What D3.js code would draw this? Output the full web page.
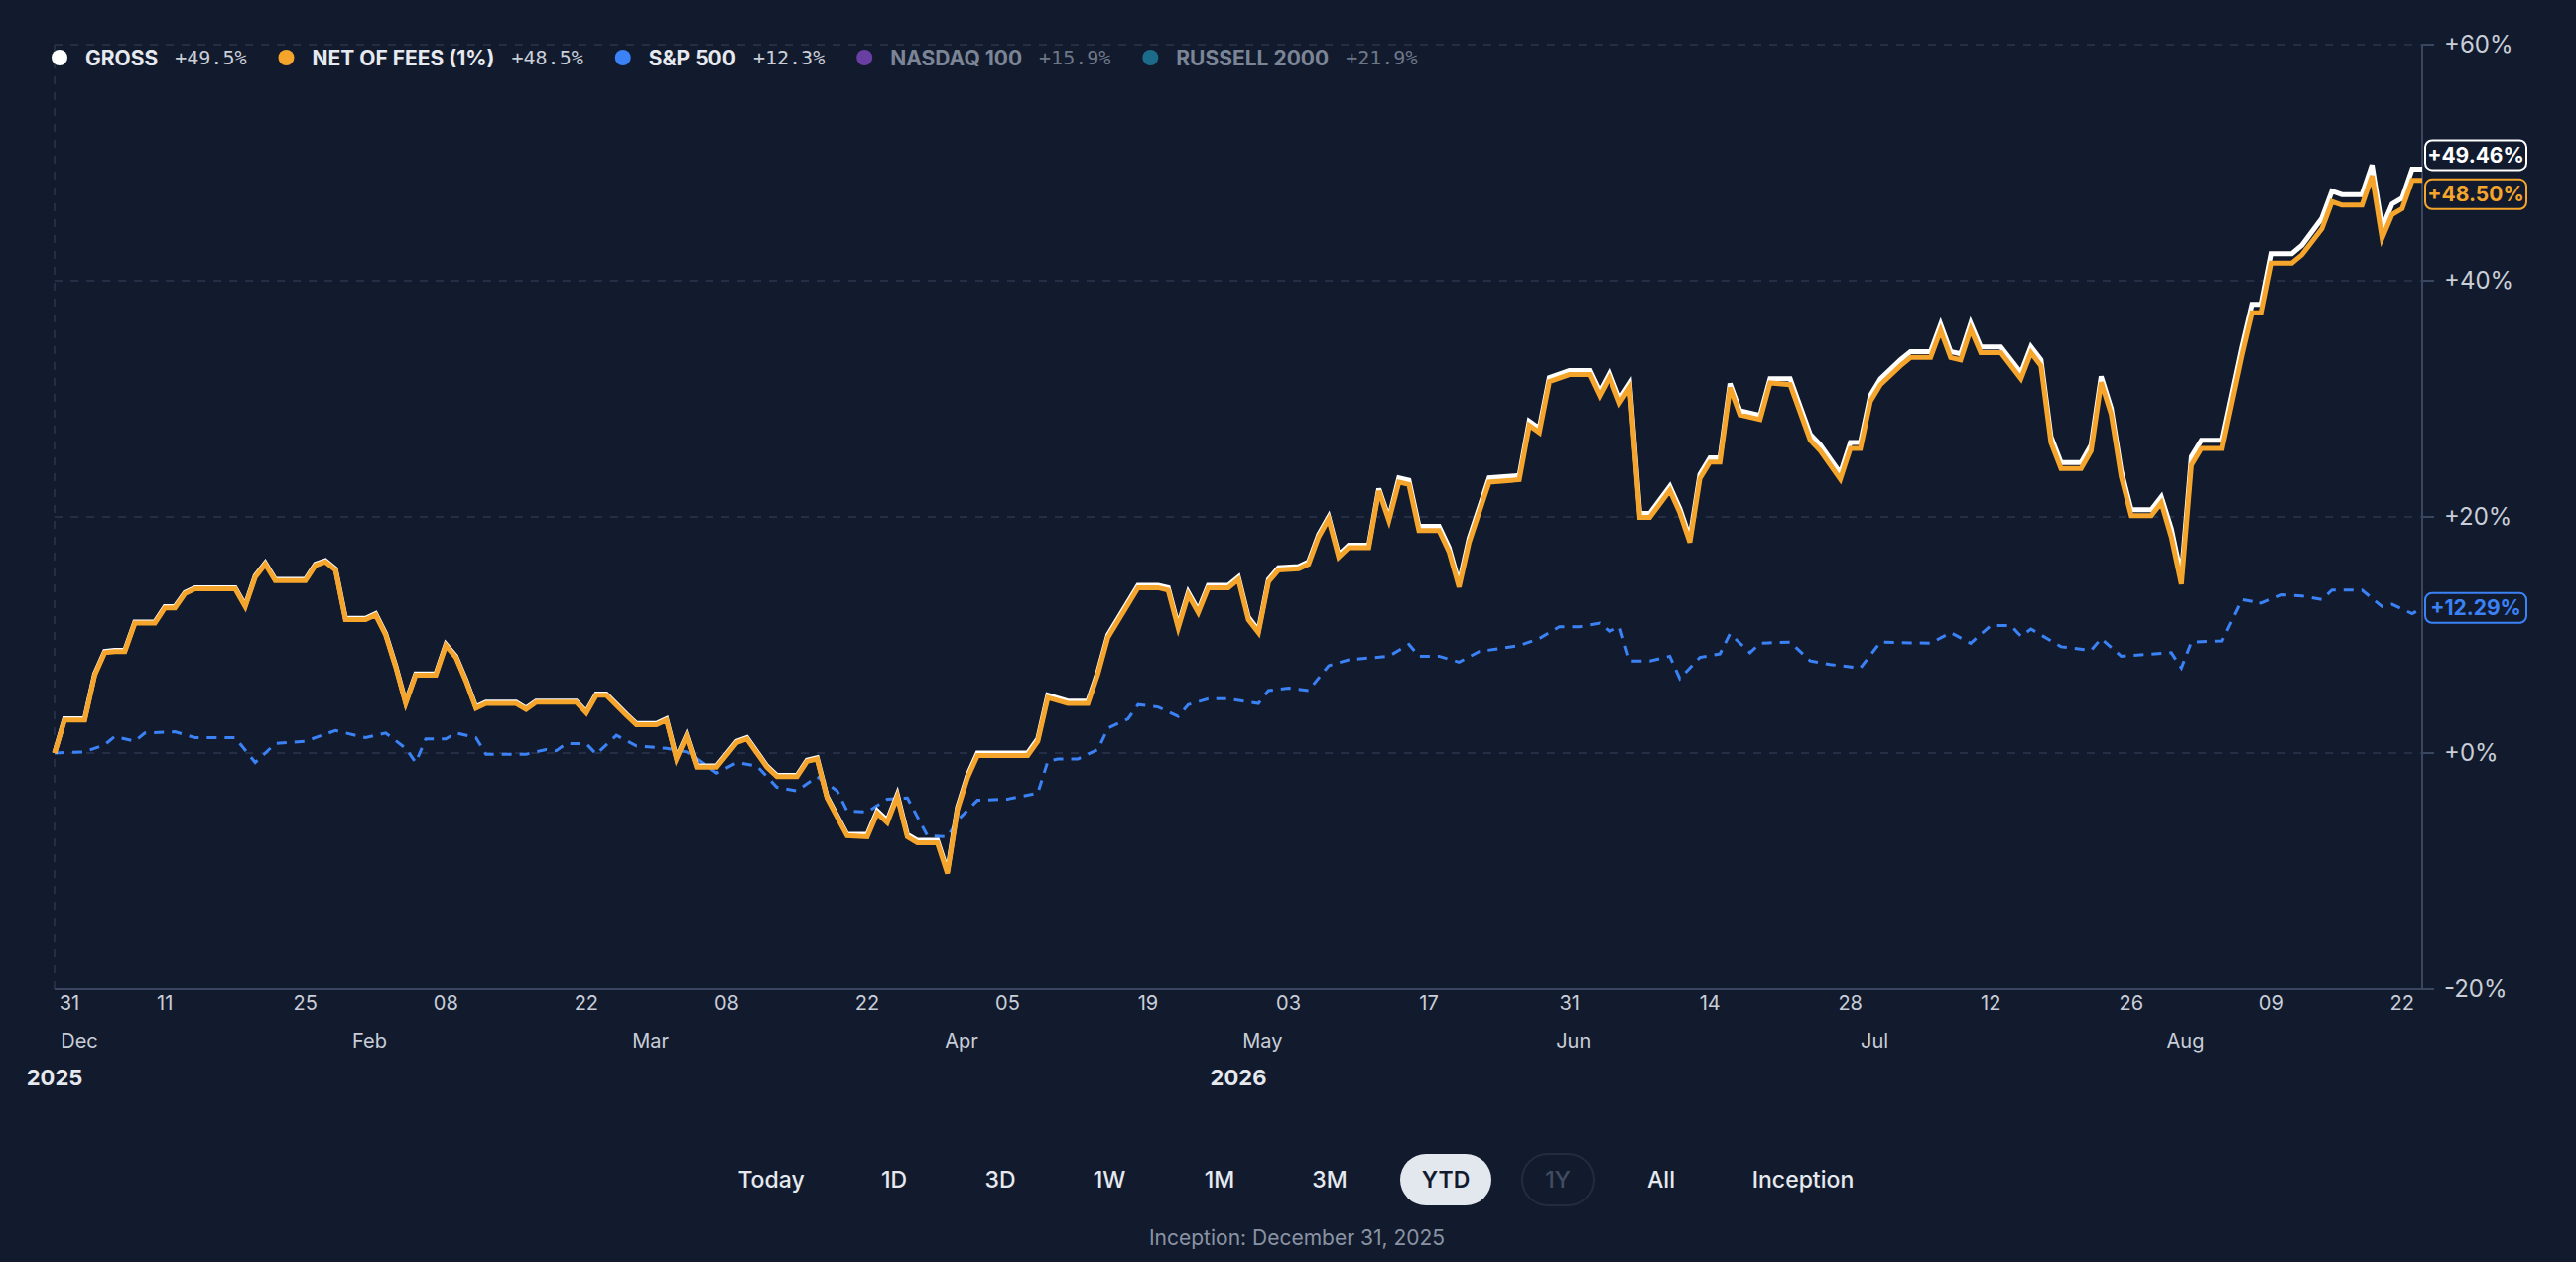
<!DOCTYPE html>
<html>
<head>
<meta charset="utf-8">
<script src="https://cdn.jsdelivr.net/npm/d3@7"></script>
<style>
  html, body { margin: 0; padding: 0; background: #121b2e; }
  svg { display: block; font-family: Inter, "Noto Sans", sans-serif; }
</style>
</head>
<body>
<svg id="chart" width="2596" height="1272"></svg>
<script>
// days since inception (Dec 31, 2025) and cumulative return in %
const grossDays = [0,1,3,4,5,6,7,8,10,11, 12,13,14,16,18,19,20,21,22,25, 26,27,28,29,31,32,33,34,35,36, 38,39,40,41,42,43,46,47,48,52,
  53,54,55,57,58,60,61,62,63,64, 66,68,69,71,72,74,75,76,77,79, 81,82,83,84,85,86,88,89,90,91, 92,97,98,99,101,103,104,105,108,110,
  111,112,113,114,115,117,118,119,120,121, 122,124,125,126,127,128,129,131,132,133, 134,135,136,138,139,140,141,143,146,147,
  148,149,151,153,154,155,156,157,158,159, 161,162,163,164,165,166,167,168,170,171, 173,175,176,178,179,180,181,182,184,185,
  187,188,189,190,191,192,194,196,197,198, 199,200,202,203,204,205,206,207,209,210, 211,212,213,214,216,218,219,220,221,223,
  224,226,227,228,230,231,232,233,234,235, 236];
const grossValues = [0,2.9,2.9,6.7,8.6,8.7,8.7,11.1,11.1,12.4, 12.4,13.6,14.0,14.0,14.0,12.5,15.0,16.1,14.7,14.7,
  16.0,16.3,15.6,11.4,11.4,11.8,10.1,7.4,4.3,6.7, 6.7,9.2,8.2,6.2,3.9,4.3,4.3,3.8,4.4,4.4,
  3.5,5.0,5.0,3.3,2.5,2.5,2.9,-0.4,1.5,-1.1, -1.1,1.0,1.3,-1.1,-1.9,-1.9,-0.6,-0.4,-3.7,-6.9,
  -6.9,-4.9,-5.7,-3.5,-6.9,-7.4,-7.4,-10.0,-4.6,-1.9, 0,0,1.2,4.9,4.4,4.4,6.9,10.0,14.2,14.2,
  14.0,10.8,13.6,12.1,14.2,14.2,14.9,11.5,10.4,14.7, 15.7,15.8,16.2,18.5,20.0,16.8,17.6,17.6,22.4,19.9,
  23.3,23.1,19.2,19.2,17.4,14.4,18.2,23.3,23.5,28.1, 27.5,31.8,32.4,32.4,30.6,32.2,30.0,31.3,20.3,20.3,
  22.6,20.7,18.2,23.6,25.0,25.0,31.3,29.0,28.6,31.7, 31.7,27.0,26.1,23.7,26.3,26.3,30.3,31.7,33.3,34.0,
  34.0,36.3,34.0,33.8,36.4,34.4,34.4,32.2,34.4,33.3, 26.8,24.6,24.6,26.1,31.9,29.2,23.9,20.6,20.6,21.7,
  19.0,15.0,25.1,26.5,26.5,34.4,38.0,38.0,42.3,42.3, 43.0,45.3,47.6,47.3,47.3,49.8,44.5,46.5,47.0,49.46, 49.46];
const netValues = [0,2.8,2.8,6.6,8.5,8.6,8.6,11.0,11.0,12.3, 12.3,13.5,13.9,13.9,13.9,12.4,14.9,16.0,14.6,14.6,
  15.9,16.2,15.5,11.3,11.3,11.7,10.0,7.3,4.2,6.6, 6.6,9.1,8.1,6.1,3.8,4.2,4.2,3.7,4.3,4.3,
  3.4,4.9,4.9,3.2,2.4,2.4,2.8,-0.5,1.4,-1.2, -1.2,0.9,1.2,-1.2,-2.0,-2.0,-0.7,-0.5,-3.8,-7.0,
  -7.1,-5.1,-5.9,-3.7,-7.1,-7.6,-7.6,-10.2,-4.8,-2.1, -0.2,-0.2,1.0,4.7,4.2,4.2,6.7,9.8,14.0,14.0,
  13.8,10.6,13.4,11.9,14.0,14.0,14.7,11.3,10.2,14.5, 15.5,15.6,16.0,18.3,19.8,16.6,17.4,17.4,22.2,19.7,
  22.95,22.75,18.85,18.85,17.05,14.05,17.85,22.95,23.15,27.75, 27.15,31.45,32.05,32.05,30.25,31.85,29.65,30.95,19.95,19.95,
  22.25,20.35,17.85,23.25,24.65,24.65,30.95,28.65,28.25,31.35, 31.2,26.5,25.6,23.2,25.8,25.8,29.8,31.2,32.8,33.5,
  33.5,35.8,33.5,33.3,35.9,33.9,33.9,31.7,33.9,32.8, 26.3,24.1,24.1,25.6,31.4,28.7,23.4,20.1,20.1,21.2,
  18.3,14.3,24.4,25.8,25.8,33.7,37.3,37.3,41.5,41.5, 42.2,44.4,46.7,46.4,46.4,48.9,43.6,45.6,46.1,48.50, 48.50];
const spDays = [0,3,5,6,8,9,12,14,18,20, 22,25,28,31,33,35,36,37,39,40, 42,43,47,49,50,51,53,54,56,58,
  61,63,66,68,70,72,74,76,78,79, 81,83,85,87,89,90,92,95,98,99, 100,102,104,105,107,108,110,112,113,115,
  117,120,121,123,125,127,129,133,135,136, 138,140,142,146,148,150,152,154,155,156, 157,159,161,162,164,166,167,169,170,173,
  175,177,180,182,187,189,191,193,195,196, 197,200,203,204,206,211,212,213,216,218, 220,222,224,226,227,230,232,233,235,236];
const spValues = [0,0.1,0.7,1.4,1.0,1.7,1.8,1.3,1.3,-0.8, 0.8,1.0,1.9,1.3,1.7,0.4,-0.8,1.2,1.2,1.7,
  1.3,-0.1,-0.1,0.3,0.2,0.8,0.8,-0.1,1.5,0.6, 0.4,0.1,-1.7,-0.8,-1.1,-2.9,-3.2,-2.0,-3.2,-4.9,
  -5.0,-3.9,-3.8,-7.0,-7.1,-5.7,-4.0,-3.9,-3.4,-0.7, -0.5,-0.5,0.3,2.1,2.9,4.1,3.9,3.1,4.1,4.6,
  4.6,4.2,5.3,5.5,5.3,7.4,7.9,8.2,9.2,8.2, 8.2,7.7,8.6,9.1,9.7,10.7,10.7,11.0,10.3,10.7,
  7.8,7.8,8.2,6.3,8.1,8.4,10.1,8.5,9.3,9.4, 7.8,7.5,7.2,9.4,9.3,10.2,9.3,10.8,10.8,9.9,
  10.5,9.0,8.7,9.7,8.2,8.5,7.2,9.4,9.5,13.0, 12.7,13.4,13.3,13.0,13.8,13.8,12.4,12.6,11.8,12.29];

const legendItems = [
  { name: "GROSS", value: "+49.5%", color: "#ffffff", text: "#e6e9ef", active: true },
  { name: "NET OF FEES (1%)", value: "+48.5%", color: "#f5a52b", text: "#e6e9ef", active: true },
  { name: "S&P 500", value: "+12.3%", color: "#3b82f6", text: "#e6e9ef", active: true },
  { name: "NASDAQ 100", value: "+15.9%", color: "#6a3fa3", text: "#7c8596", active: false },
  { name: "RUSSELL 2000", value: "+21.9%", color: "#1d6b8a", text: "#7c8596", active: false }
];
const yTicks = [60, 40, 20, 0, -20];
const dayTicks = ["2025-12-31","2026-01-11","2026-01-25","2026-02-08","2026-02-22","2026-03-08","2026-03-22","2026-04-05",
  "2026-04-19","2026-05-03","2026-05-17","2026-05-31","2026-06-14","2026-06-28","2026-07-12","2026-07-26","2026-08-09","2026-08-22"];
const monthTicks = [["2025-12-31","Dec"],["2026-02-01","Feb"],["2026-03-01","Mar"],["2026-04-01","Apr"],["2026-05-01","May"],
  ["2026-06-01","Jun"],["2026-07-01","Jul"],["2026-08-01","Aug"]];
const yearTicks = [["2025-12-31","2025"],["2026-04-28","2026"]];
const rangeButtons = ["Today","1D","3D","1W","1M","3M","YTD","1Y","All","Inception"];
const endLabels = [
  { text: "+49.46%", color: "#ffffff", v: 49.46, dy: -14 },
  { text: "+48.50%", color: "#f5a52b", v: 48.5, dy: 14 },
  { text: "+12.29%", color: "#3b82f6", v: 12.29, dy: 0 }
];

const svg = d3.select("#chart");
const parse = d3.utcParse("%Y-%m-%d");
const start = parse("2025-12-31");
const L = 55, R = 2441, T = 45, B = 997;

const x = d3.scaleUtc().domain([start, d3.utcDay.offset(start, 236)]).range([L, R]);
const y = d3.scaleLinear().domain([-20, 60]).range([B, T]);

svg.append("rect").attr("width", 2596).attr("height", 1272).attr("fill", "#121b2e");

// grid
svg.selectAll(".grid").data(yTicks.filter(d => d > -20)).enter().append("line")
  .attr("x1", L).attr("x2", R).attr("y1", d => y(d)).attr("y2", d => y(d))
  .attr("stroke", "#2b3650").attr("stroke-width", 1.5).attr("stroke-dasharray", "8,8");
svg.append("line").attr("x1", L).attr("x2", L).attr("y1", T).attr("y2", B)
  .attr("stroke", "#2b3650").attr("stroke-width", 1.5).attr("stroke-dasharray", "8,8");
svg.append("line").attr("x1", L).attr("x2", R).attr("y1", B).attr("y2", B).attr("stroke", "#3a4560").attr("stroke-width", 2);
svg.append("line").attr("x1", R).attr("x2", R).attr("y1", T).attr("y2", B).attr("stroke", "#3a4560").attr("stroke-width", 2);

// y axis labels
svg.selectAll(".ylab").data(yTicks).enter().append("text")
  .attr("x", R + 22).attr("y", d => y(d)).attr("dy", "0.35em")
  .attr("fill", "#c9ced8").attr("font-size", 24)
  .text(d => (d >= 0 ? "+" : "") + d + "%");
svg.selectAll(".ytk").data(yTicks).enter().append("line")
  .attr("x1", R).attr("x2", R + 12).attr("y1", d => y(d)).attr("y2", d => y(d)).attr("stroke", "#3a4560").attr("stroke-width", 2);

// x axis labels
const fmtDay = d3.utcFormat("%d");
svg.selectAll(".xlab").data(dayTicks).enter().append("text")
  .attr("x", d => Math.max(x(parse(d)), 70)).attr("y", 1018)
  .attr("text-anchor", "middle").attr("fill", "#c9ced8").attr("font-size", 20)
  .text(d => fmtDay(parse(d)));
svg.selectAll(".mlab").data(monthTicks).enter().append("text")
  .attr("x", d => Math.max(x(parse(d[0])) - 6, 80)).attr("y", 1056)
  .attr("text-anchor", "middle").attr("fill", "#c9ced8").attr("font-size", 20)
  .text(d => d[1]);
svg.selectAll(".yrlab").data(yearTicks).enter().append("text")
  .attr("x", d => x(parse(d[0]))).attr("y", 1094)
  .attr("text-anchor", "middle").attr("fill", "#e6e9ef").attr("font-size", 22).attr("font-weight", 700)
  .text(d => d[1]);

// lines
const line = d3.line().x(d => x(d3.utcDay.offset(start, d[0]))).y(d => y(d[1])).curve(d3.curveLinear);
const grossPts = grossDays.map((d, i) => [d, grossValues[i]]);
const netPts = grossDays.map((d, i) => [d, netValues[i]]);
const spPts = spDays.map((d, i) => [d, spValues[i]]);

svg.append("path").datum(spPts).attr("d", line).attr("fill", "none")
  .attr("stroke", "#3b82f6").attr("stroke-width", 3).attr("stroke-dasharray", "10,8");
svg.append("path").datum(grossPts).attr("d", line).attr("fill", "none")
  .attr("stroke", "#ffffff").attr("stroke-width", 5).attr("stroke-linejoin", "miter");
svg.append("path").datum(netPts).attr("d", line).attr("fill", "none")
  .attr("stroke", "#f5a52b").attr("stroke-width", 5).attr("stroke-linejoin", "miter");

// end labels
endLabels.forEach(e => {
  const cy = y(e.v) + e.dy;
  const g = svg.append("g").attr("transform", `translate(${R + 3},${cy})`);
  g.append("rect").attr("x", 0).attr("y", -15).attr("width", 102).attr("height", 30).attr("rx", 7)
    .attr("fill", "#121b2e").attr("stroke", e.color).attr("stroke-width", 2);
  g.append("text").attr("x", 51).attr("dy", "0.36em").attr("text-anchor", "middle")
    .attr("fill", e.color).attr("font-size", 21).attr("font-weight", 700).text(e.text);
});

// legend
let lx = 60;
legendItems.forEach(it => {
  svg.append("circle").attr("cx", lx).attr("cy", 58).attr("r", 8).attr("fill", it.color);
  const t = svg.append("text").attr("x", lx + 26).attr("y", 58).attr("dy", "0.36em")
    .attr("fill", it.text).attr("font-size", 21).attr("font-weight", 700).text(it.name);
  const w = t.node().getComputedTextLength();
  const v = svg.append("text").attr("x", lx + 26 + w + 17).attr("y", 58).attr("dy", "0.36em")
    .attr("fill", it.active ? "#c9ced8" : "#6e7788").attr("font-size", 20)
    .attr("font-family", "'DejaVu Sans Mono', monospace").text(it.value);
  lx = lx + 26 + w + 17 + v.node().getComputedTextLength() + 40;
});

// range buttons
const btnX = [777, 901, 1008, 1118, 1229, 1340, 1457, 1570, 1674, 1817];
rangeButtons.forEach((b, i) => {
  const g = svg.append("g").attr("transform", `translate(${btnX[i]},1189)`);
  if (b === "YTD") {
    g.append("rect").attr("x", -46).attr("y", -26).attr("width", 92).attr("height", 52).attr("rx", 26).attr("fill", "#e3e7ee");
  } else if (b === "1Y") {
    g.append("rect").attr("x", -36).attr("y", -26).attr("width", 72).attr("height", 52).attr("rx", 26)
      .attr("fill", "none").attr("stroke", "#222c40").attr("stroke-width", 2);
  }
  g.append("text").attr("text-anchor", "middle").attr("dy", "0.36em").attr("font-size", 23)
    .attr("font-weight", b === "YTD" ? 600 : 500)
    .attr("fill", b === "YTD" ? "#121b2e" : b === "1Y" ? "#424c60" : "#e6e9ef").text(b);
});

svg.append("text").attr("x", 1307).attr("y", 1247).attr("text-anchor", "middle").attr("dy", "0.36em")
  .attr("fill", "#8a93a3").attr("font-size", 21).text("Inception: December 31, 2025");
</script>
</body>
</html>
